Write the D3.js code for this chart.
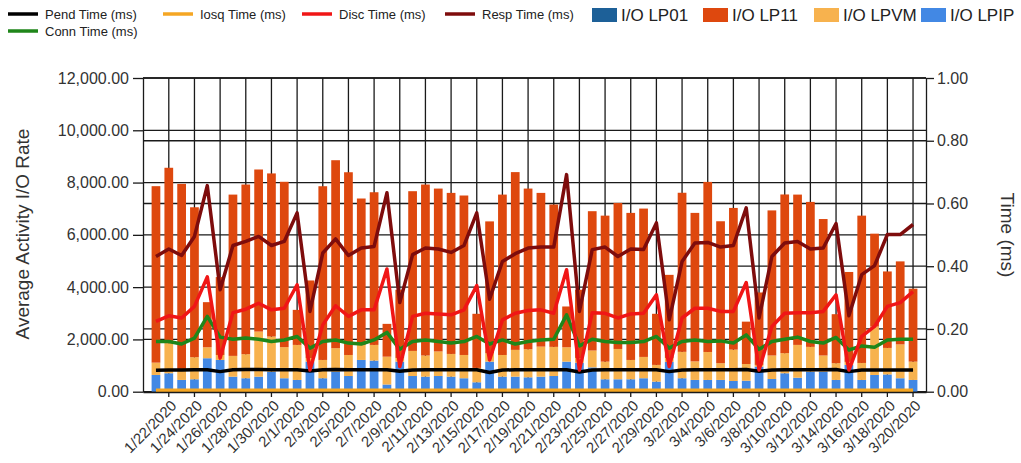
<!DOCTYPE html>
<html>
<head>
<meta charset="utf-8">
<script src="https://cdn.jsdelivr.net/npm/d3@7"></script>
<style>
  body { margin: 0; background: #fff; }
  svg { font-family: "Liberation Sans", Arial, sans-serif; }
</style>
</head>
<body>
<div id="chart"></div>
<script>
// categories: one bar per day, labels shown every second day
const dates = [
  "1/21/2020", "1/22/2020", "1/23/2020", "1/24/2020", "1/25/2020", "1/26/2020", "1/27/2020", "1/28/2020", "1/29/2020", "1/30/2020",
  "1/31/2020", "2/1/2020", "2/2/2020", "2/3/2020", "2/4/2020", "2/5/2020", "2/6/2020", "2/7/2020", "2/8/2020", "2/9/2020",
  "2/10/2020", "2/11/2020", "2/12/2020", "2/13/2020", "2/14/2020", "2/15/2020", "2/16/2020", "2/17/2020", "2/18/2020", "2/19/2020",
  "2/20/2020", "2/21/2020", "2/22/2020", "2/23/2020", "2/24/2020", "2/25/2020", "2/26/2020", "2/27/2020", "2/28/2020", "2/29/2020",
  "3/1/2020", "3/2/2020", "3/3/2020", "3/4/2020", "3/5/2020", "3/6/2020", "3/7/2020", "3/8/2020", "3/9/2020", "3/10/2020",
  "3/11/2020", "3/12/2020", "3/13/2020", "3/14/2020", "3/15/2020", "3/16/2020", "3/17/2020", "3/18/2020", "3/19/2020", "3/20/2020"
];
const dateLabels = [
  "1/22/2020", "1/24/2020", "1/26/2020", "1/28/2020", "1/30/2020", "2/1/2020", "2/3/2020", "2/5/2020", "2/7/2020", "2/9/2020",
  "2/11/2020", "2/13/2020", "2/15/2020", "2/17/2020", "2/19/2020", "2/21/2020", "2/23/2020", "2/25/2020", "2/27/2020", "2/29/2020",
  "3/2/2020", "3/4/2020", "3/6/2020", "3/8/2020", "3/10/2020", "3/12/2020", "3/14/2020", "3/16/2020", "3/18/2020", "3/20/2020"
];

// bar series (I/O rate)
const lp01 = [
  0, 0, 0, 0, 0, 0, 0, 0, 0, 0, 0, 0, 0, 0, 0, 0, 0, 0, 0, 0,
  0, 0, 0, 0, 0, 0, 0, 0, 0, 0, 0, 0, 0, 0, 0, 0, 0, 0, 0, 0,
  0, 0, 0, 0, 0, 0, 0, 0, 0, 0, 0, 0, 0, 0, 0, 0, 0, 0, 0, 0
];
const lp11 = [
  6750, 6710, 7120, 5735, 1725, 2980, 6170, 6490, 6200, 6240,
  6325, 1340, 2965, 6645, 7190, 6990, 5600, 5840, 1255, 2610,
  6110, 6540, 6230, 6160, 6100, 2070, 5045, 6135, 6800, 6145,
  5880, 5445, 1560, 2610, 5330, 5585, 5585, 5625, 5675, 1955,
  3180, 6085, 5680, 6505, 5430, 5420, 1620, 2770, 5550, 6070,
  5750, 5545, 5220, 1875, 3440, 5635, 3555, 2925, 3175, 2790
];
const lpvm = [
  472, 1151, 380, 845, 420, 190, 795, 920, 1725, 1345,
  1190, 1340, 140, 700, 900, 805, 575, 600, 1065, 140,
  960, 810, 940, 870, 890, 550, 320, 830, 1025, 1075,
  1150, 1115, 550, 180, 645, 675, 1160, 740, 815, 640,
  150, 1010, 710, 1070, 640, 1200, 640, 65, 900, 770,
  1255, 950, 620, 640, 115, 650, 1850, 1015, 1295, 700
];
const lpip = [
  640, 705, 450, 475, 1280, 1215, 575, 515, 575, 765,
  515, 450, 1150, 515, 765, 600, 1215, 1190, 275, 1150,
  600, 575, 600, 575, 515, 360, 1150, 575, 575, 550,
  575, 600, 1150, 1110, 930, 475, 475, 475, 515, 385,
  1140, 515, 450, 450, 450, 410, 420, 960, 485, 705,
  535, 765, 765, 450, 1025, 450, 640, 660, 515, 450
];

// line series (ms)
const pendTime = [
  0.068, 0.069, 0.069, 0.070, 0.070, 0.064, 0.070, 0.071, 0.071, 0.070,
  0.070, 0.070, 0.066, 0.070, 0.071, 0.070, 0.070, 0.070, 0.070, 0.065,
  0.069, 0.070, 0.070, 0.070, 0.070, 0.070, 0.061, 0.069, 0.070, 0.070,
  0.070, 0.070, 0.070, 0.063, 0.069, 0.070, 0.070, 0.070, 0.070, 0.070,
  0.064, 0.069, 0.070, 0.070, 0.070, 0.070, 0.071, 0.065, 0.069, 0.070,
  0.070, 0.070, 0.070, 0.071, 0.064, 0.069, 0.069, 0.069, 0.069, 0.069
];
const iosqTime = [
  0.005, 0.005, 0.005, 0.005, 0.005, 0.005, 0.005, 0.005, 0.005, 0.005,
  0.005, 0.005, 0.005, 0.005, 0.005, 0.005, 0.005, 0.005, 0.005, 0.005,
  0.005, 0.005, 0.005, 0.005, 0.005, 0.005, 0.005, 0.005, 0.005, 0.005,
  0.005, 0.005, 0.005, 0.005, 0.005, 0.005, 0.005, 0.005, 0.005, 0.005,
  0.005, 0.005, 0.005, 0.005, 0.005, 0.005, 0.005, 0.005, 0.005, 0.005,
  0.005, 0.005, 0.005, 0.005, 0.005, 0.005, 0.005, 0.005, 0.005, 0.005
];
const discTime = [
  0.224, 0.242, 0.235, 0.272, 0.366, 0.107, 0.252, 0.263, 0.282, 0.261,
  0.266, 0.341, 0.069, 0.213, 0.274, 0.240, 0.261, 0.261, 0.391, 0.080,
  0.240, 0.250, 0.248, 0.245, 0.261, 0.338, 0.101, 0.229, 0.250, 0.259,
  0.261, 0.250, 0.389, 0.069, 0.252, 0.250, 0.235, 0.248, 0.250, 0.309,
  0.080, 0.235, 0.266, 0.266, 0.256, 0.256, 0.348, 0.069, 0.208, 0.250,
  0.252, 0.252, 0.256, 0.309, 0.069, 0.176, 0.208, 0.272, 0.284, 0.319
];
const respTime = [
  0.431, 0.455, 0.434, 0.495, 0.657, 0.325, 0.466, 0.479, 0.495, 0.466,
  0.479, 0.570, 0.256, 0.442, 0.487, 0.434, 0.458, 0.463, 0.634, 0.284,
  0.437, 0.458, 0.455, 0.444, 0.466, 0.570, 0.295, 0.415, 0.440, 0.458,
  0.461, 0.461, 0.692, 0.256, 0.453, 0.461, 0.431, 0.455, 0.453, 0.538,
  0.229, 0.415, 0.474, 0.476, 0.461, 0.466, 0.586, 0.235, 0.431, 0.474,
  0.479, 0.455, 0.458, 0.536, 0.242, 0.373, 0.402, 0.501, 0.501, 0.533
];
const connTime = [
  0.160, 0.160, 0.152, 0.171, 0.240, 0.174, 0.167, 0.171, 0.167, 0.160,
  0.165, 0.176, 0.139, 0.160, 0.165, 0.155, 0.152, 0.165, 0.189, 0.135,
  0.160, 0.165, 0.160, 0.155, 0.160, 0.176, 0.152, 0.165, 0.152, 0.160,
  0.165, 0.167, 0.245, 0.146, 0.167, 0.160, 0.157, 0.157, 0.160, 0.176,
  0.139, 0.160, 0.165, 0.160, 0.162, 0.155, 0.181, 0.135, 0.160, 0.167,
  0.174, 0.160, 0.155, 0.173, 0.133, 0.146, 0.142, 0.165, 0.167, 0.167
];

const leftTicks = [0, 2000, 4000, 6000, 8000, 10000, 12000];
const rightTicks = [0, 0.2, 0.4, 0.6, 0.8, 1.0];

const width = 1021;
const height = 463;
const margin = ({top: 78, right: 95, bottom: 71, left: 143});

const barSeries = [
  {key: "lp01", name: "I/O LP01", color: "#1d6098", values: lp01},
  {key: "lpip", name: "I/O LPIP", color: "#4288e4", values: lpip},
  {key: "lpvm", name: "I/O LPVM", color: "#f7b24e", values: lpvm},
  {key: "lp11", name: "I/O LP11", color: "#de480e", values: lp11}
];
const lineSeries = [
  {name: "Iosq Time (ms)", color: "#f5a623", values: iosqTime},
  {name: "Pend Time (ms)", color: "#000000", values: pendTime},
  {name: "Conn Time (ms)", color: "#1f861a", values: connTime},
  {name: "Disc Time (ms)", color: "#f01616", values: discTime},
  {name: "Resp Time (ms)", color: "#7e0c0c", values: respTime}
];

const table = dates.map((d, i) => {
  const row = {date: d};
  barSeries.forEach(s => row[s.key] = s.values[i]);
  return row;
});

const xScale = d3.scaleBand()
  .domain(dates)
  .range([margin.left, width - margin.right])
  .paddingInner(0.32)
  .paddingOuter(0.67);
const yScale = d3.scaleLinear()
  .domain([0, 12000])
  .range([height - margin.bottom - 0.3, margin.top]);
const y2Scale = d3.scaleLinear()
  .domain([0, 1])
  .range([height - margin.bottom - 0.3, margin.top]);

const svg = d3.select("#chart").append("svg")
  .attr("width", width)
  .attr("height", height)
  .attr("viewBox", [0, 0, width, height]);

// grid
const grid = svg.append("g")
  .attr("stroke", "#1a1a1a")
  .attr("stroke-width", 1.3);
grid.selectAll(".gx")
  .data(dateLabels)
  .join("line")
    .attr("class", "gx")
    .attr("x1", d => xScale(d) + xScale.bandwidth() / 2)
    .attr("x2", d => xScale(d) + xScale.bandwidth() / 2)
    .attr("y1", margin.top)
    .attr("y2", height - margin.bottom);
grid.selectAll(".gy")
  .data(leftTicks)
  .join("line")
    .attr("class", "gy")
    .attr("x1", margin.left)
    .attr("x2", width - margin.right)
    .attr("y1", d => yScale(d))
    .attr("y2", d => yScale(d));
grid.selectAll(".gy2")
  .data(rightTicks)
  .join("line")
    .attr("class", "gy2")
    .attr("x1", margin.left)
    .attr("x2", width - margin.right)
    .attr("y1", d => y2Scale(d))
    .attr("y2", d => y2Scale(d));

// stacked bars
const stacked = d3.stack().keys(barSeries.map(s => s.key))(table);
svg.append("g")
  .selectAll("g")
  .data(stacked)
  .join("g")
    .attr("fill", (d, i) => barSeries[i].color)
  .selectAll("rect")
  .data(d => d)
  .join("rect")
    .attr("x", d => xScale(d.data.date))
    .attr("width", xScale.bandwidth())
    .attr("y", d => yScale(d[1]))
    .attr("height", d => yScale(d[0]) - yScale(d[1]));

// lines on the right axis
const line = d3.line()
  .x((d, i) => xScale(dates[i]) + xScale.bandwidth() / 2)
  .y(d => y2Scale(d));
svg.append("g")
  .selectAll("path")
  .data(lineSeries)
  .join("path")
    .attr("fill", "none")
    .attr("stroke", d => d.color)
    .attr("stroke-width", 3.5)
    .attr("stroke-linejoin", "round")
    .attr("d", d => line(d.values));

// axes
svg.append("g")
  .attr("transform", `translate(${margin.left},0)`)
  .call(d3.axisLeft(yScale).tickValues(leftTicks).tickSize(10).tickPadding(4)
    .tickFormat(d3.format(",.2f")).tickSizeOuter(0))
  .call(g => g.selectAll("line, path").attr("stroke", "#1a1a1a").attr("stroke-width", 1.3))
  .call(g => g.selectAll("text").attr("font-size", 16).attr("fill", "#333").attr("font-family", null));

svg.append("g")
  .attr("transform", `translate(${width - margin.right},0)`)
  .call(d3.axisRight(y2Scale).tickValues(rightTicks).tickSize(8).tickPadding(3)
    .tickFormat(d3.format(".2f")).tickSizeOuter(0))
  .call(g => g.selectAll("line, path").attr("stroke", "#1a1a1a").attr("stroke-width", 1.3))
  .call(g => g.selectAll("text").attr("font-size", 16).attr("fill", "#333").attr("font-family", null));

svg.append("g")
  .attr("transform", `translate(0,${height - margin.bottom})`)
  .call(d3.axisBottom(xScale).tickValues(dateLabels).tickSize(5).tickSizeOuter(0))
  .call(g => g.selectAll("line, path").attr("stroke", "#1a1a1a").attr("stroke-width", 1.3))
  .call(g => g.selectAll("text")
    .attr("font-size", 15)
    .attr("fill", "#333")
    .attr("font-family", null)
    .attr("text-anchor", "end")
    .attr("x", 0).attr("y", 0).attr("dy", "0.35em")
    .attr("transform", "translate(5,11) rotate(-45)"));

// axis titles
svg.append("text")
  .attr("transform", "rotate(-90)")
  .attr("x", -234)
  .attr("y", 29)
  .attr("text-anchor", "middle")
  .attr("font-size", 19)
  .attr("fill", "#333")
  .text("Average Activity I/O Rate");

svg.append("text")
  .attr("transform", "translate(1001,235) rotate(90)")
  .attr("text-anchor", "middle")
  .attr("font-size", 19)
  .attr("fill", "#333")
  .text("Time (ms)");

// legend
const legendLines = [
  {name: "Pend Time (ms)", color: "#000000", x: 8, y: 14},
  {name: "Iosq Time (ms)", color: "#f5a623", x: 163, y: 14},
  {name: "Disc Time (ms)", color: "#f01616", x: 302, y: 14},
  {name: "Resp Time (ms)", color: "#7e0c0c", x: 445, y: 14},
  {name: "Conn Time (ms)", color: "#1f861a", x: 8, y: 31}
];
const legendBoxes = [
  {name: "I/O LP01", color: "#1d6098", x: 592},
  {name: "I/O LP11", color: "#de480e", x: 703},
  {name: "I/O LPVM", color: "#f7b24e", x: 814},
  {name: "I/O LPIP", color: "#4288e4", x: 921}
];

const gl = svg.append("g");
const li = gl.selectAll(".li")
  .data(legendLines)
  .join("g")
    .attr("class", "li")
    .attr("transform", d => `translate(${d.x},${d.y})`);
li.append("line")
  .attr("x1", 0).attr("x2", 30)
  .attr("stroke", d => d.color)
  .attr("stroke-width", 3.5);
li.append("text")
  .attr("x", 37)
  .attr("dy", "0.35em")
  .attr("font-size", 13)
  .attr("fill", "#222")
  .text(d => d.name);

const lb = gl.selectAll(".lb")
  .data(legendBoxes)
  .join("g")
    .attr("class", "lb")
    .attr("transform", d => `translate(${d.x},15)`);
lb.append("rect")
  .attr("x", 0).attr("y", -7)
  .attr("width", 25).attr("height", 14)
  .attr("fill", d => d.color);
lb.append("text")
  .attr("x", 29)
  .attr("dy", "0.35em")
  .attr("font-size", 17)
  .attr("fill", "#222")
  .text(d => d.name);
</script>
</body>
</html>
